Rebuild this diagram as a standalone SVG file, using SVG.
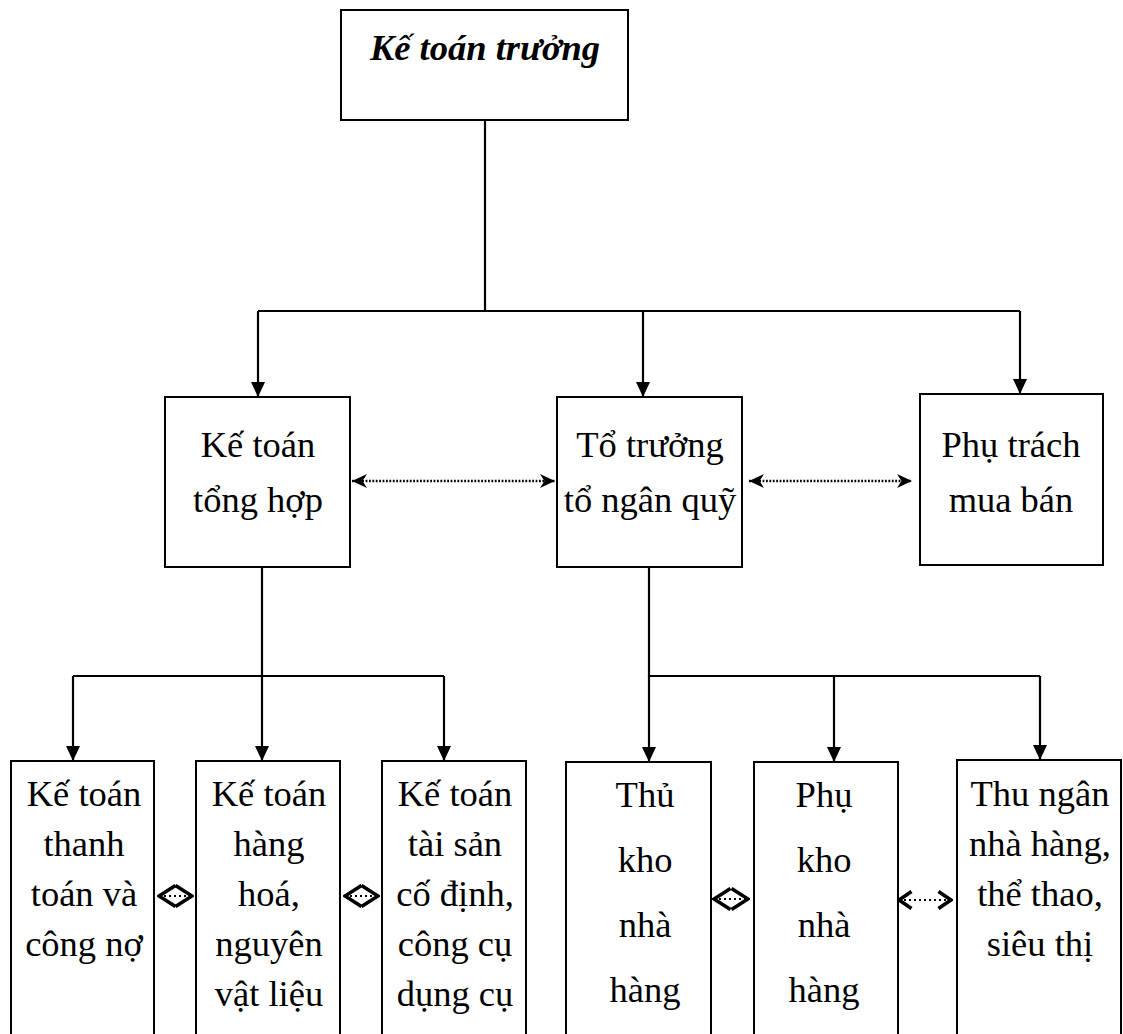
<svg xmlns="http://www.w3.org/2000/svg" width="1123" height="1034" viewBox="0 0 1123 1034">
<style>
.box{fill:#fff;stroke:#000;stroke-width:2}
.t{font-family:"Liberation Serif","Times New Roman",serif;font-size:36.5px;fill:#000;text-anchor:middle}
.tb{font-weight:bold;font-style:italic}
.ln{fill:none;stroke:#000;stroke-width:2.2}
.arr{fill:none;stroke:#000;stroke-width:2.2;marker-end:url(#ah)}
.dot{fill:none;stroke:#000;stroke-width:2.3;stroke-dasharray:1.8 1.6;marker-start:url(#st);marker-end:url(#st)}
.dot2{fill:none;stroke:#000;stroke-width:2.2;stroke-dasharray:2 3}
</style>
<defs>
<marker id="ah" viewBox="0 0 15 14" refX="15" refY="7" markerWidth="15" markerHeight="14" markerUnits="userSpaceOnUse" orient="auto"><path d="M0,0 L15,7 L0,14 z" fill="#000"/></marker>
<marker id="st" viewBox="0 0 15 14" refX="15" refY="7" markerWidth="15" markerHeight="14" markerUnits="userSpaceOnUse" orient="auto-start-reverse"><path d="M0,0 L15,7 L0,14 L4.5,7 z" fill="#000"/></marker>
<marker id="cv" viewBox="0 0 20 24" refX="18" refY="12" markerWidth="20" markerHeight="24" markerUnits="userSpaceOnUse" orient="auto-start-reverse"><path d="M1.5,1.5 L18,12 L1.5,22.5" fill="none" stroke="#000" stroke-width="3.6"/></marker>
<marker id="cv2" viewBox="0 0 16 20" refX="14" refY="10" markerWidth="16" markerHeight="20" markerUnits="userSpaceOnUse" orient="auto-start-reverse"><path d="M1.5,1.5 L14,10 L1.5,18.5" fill="none" stroke="#000" stroke-width="3.6"/></marker>
</defs>

<g id="connectors">
<path class="ln" d="M485,120 V311 M258,311 H1020"/>
<path class="arr" d="M258,311 V397"/>
<path class="arr" d="M643,311 V397"/>
<path class="arr" d="M1020,311 V394"/>
<path class="dot" d="M352,481 H555"/>
<path class="dot" d="M749,481 H912"/>
<path class="ln" d="M262,567 V676 M73,676 H444"/>
<path class="arr" d="M73,676 V761"/>
<path class="arr" d="M262,676 V761"/>
<path class="arr" d="M444,676 V761"/>
<path class="ln" d="M649,567 V676 H1040"/>
<path class="arr" d="M649,676 V762"/>
<path class="arr" d="M834,676 V762"/>
<path class="arr" d="M1040,676 V760"/>
<path class="dot2" d="M159,896 H192" style="marker-start:url(#cv);marker-end:url(#cv)"/>
<path class="dot2" d="M345,896 H378" style="marker-start:url(#cv);marker-end:url(#cv)"/>
<path class="dot2" d="M714,899 H748" style="marker-start:url(#cv);marker-end:url(#cv)"/>
<path class="dot2" d="M899,900 H951" style="marker-start:url(#cv2);marker-end:url(#cv2)"/>
</g>

<g id="n-ketoantruong">
<rect class="box" x="341" y="10" width="287" height="110"/>
<text class="t tb" x="485" y="60">Kế toán trưởng</text>
</g>

<g id="n-tonghop">
<rect class="box" x="165" y="397" width="185" height="170"/>
<text class="t" x="258" y="457">Kế toán</text>
<text class="t" x="258" y="512">tổng hợp</text>
</g>

<g id="n-totruong">
<rect class="box" x="557" y="397" width="185" height="170"/>
<text class="t" x="650" y="457">Tổ trưởng</text>
<text class="t" x="650" y="512">tổ ngân quỹ</text>
</g>

<g id="n-phutrach">
<rect class="box" x="920" y="394" width="183" height="171"/>
<text class="t" x="1011" y="457">Phụ trách</text>
<text class="t" x="1011" y="512">mua bán</text>
</g>

<g id="n-thanhtoan">
<rect class="box" x="11" y="761" width="143" height="290"/>
<text class="t" x="84" y="806">Kế toán</text>
<text class="t" x="84" y="856">thanh</text>
<text class="t" x="84" y="906">toán và</text>
<text class="t" x="84" y="956">công nợ</text>
</g>

<g id="n-hanghoa">
<rect class="box" x="196" y="761" width="144" height="290"/>
<text class="t" x="269" y="806">Kế toán</text>
<text class="t" x="269" y="856">hàng</text>
<text class="t" x="269" y="906">hoá,</text>
<text class="t" x="269" y="956">nguyên</text>
<text class="t" x="269" y="1006">vật liệu</text>
</g>

<g id="n-taisan">
<rect class="box" x="382" y="761" width="144" height="290"/>
<text class="t" x="455" y="806">Kế toán</text>
<text class="t" x="455" y="856">tài sản</text>
<text class="t" x="455" y="906">cố định,</text>
<text class="t" x="455" y="956">công cụ</text>
<text class="t" x="455" y="1006">dụng cụ</text>
</g>

<g id="n-thukho">
<rect class="box" x="566" y="762" width="145" height="290"/>
<text class="t" x="645" y="807">Thủ</text>
<text class="t" x="645" y="872">kho</text>
<text class="t" x="645" y="937">nhà</text>
<text class="t" x="645" y="1002">hàng</text>
</g>

<g id="n-phukho">
<rect class="box" x="754" y="762" width="144" height="290"/>
<text class="t" x="824" y="807">Phụ</text>
<text class="t" x="824" y="872">kho</text>
<text class="t" x="824" y="937">nhà</text>
<text class="t" x="824" y="1002">hàng</text>
</g>

<g id="n-thungan">
<rect class="box" x="957" y="760" width="164" height="290"/>
<text class="t" x="1040" y="806">Thu ngân</text>
<text class="t" x="1040" y="856">nhà hàng,</text>
<text class="t" x="1040" y="906">thể thao,</text>
<text class="t" x="1040" y="956">siêu thị</text>
</g>
</svg>
